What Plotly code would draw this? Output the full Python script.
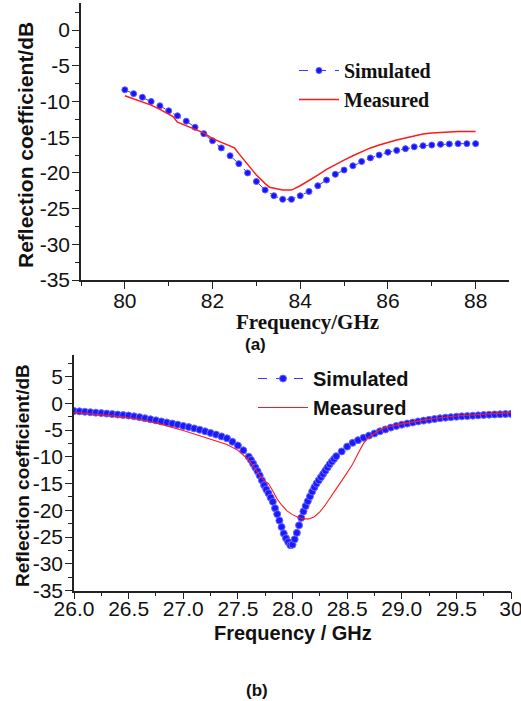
import plotly.graph_objects as go

# ---------------- data: panel (a) ----------------
a_sim_freq = [80.0, 80.2, 80.4, 80.6, 80.8, 81.0, 81.2, 81.4, 81.6, 81.8,
              82.0, 82.2, 82.4, 82.6, 82.8, 83.0, 83.2, 83.4, 83.6, 83.8,
              84.0, 84.2, 84.4, 84.6, 84.8, 85.0, 85.2, 85.4, 85.6, 85.8,
              86.0, 86.2, 86.4, 86.6, 86.8, 87.0, 87.2, 87.4, 87.6, 87.8, 88.0]
a_sim_db = [-8.36, -8.9, -9.4, -10.0, -10.6, -11.3, -12.0, -12.75, -13.6, -14.5,
            -15.5, -16.5, -17.6, -18.7, -20.0, -21.2, -22.4, -23.2, -23.7, -23.7,
            -23.2, -22.6, -21.8, -21.0, -20.2, -19.6, -19.0, -18.4, -17.9, -17.5,
            -17.1, -16.85, -16.6, -16.35, -16.2, -16.1, -16.0, -15.95, -15.9, -15.9, -15.9]

a_meas_freq = [80.0, 80.2, 80.4, 80.6, 80.8, 81.0, 81.1, 81.2, 81.4, 81.6,
               81.8, 82.0, 82.2, 82.4, 82.5, 82.6, 82.8, 83.0, 83.2, 83.3,
               83.6, 83.8, 84.0, 84.2, 84.4, 84.6, 84.8, 85.0, 85.2, 85.4,
               85.6, 85.8, 86.0, 86.2, 86.4, 86.6, 86.8, 87.0, 87.2, 87.4,
               87.6, 87.8, 88.0]
a_meas_db = [-9.2, -9.6, -10.0, -10.5, -11.1, -11.8, -12.1, -12.9, -13.4, -14.0,
             -14.4, -15.2, -15.7, -16.2, -16.5, -17.3, -18.8, -20.3, -21.5, -22.0,
             -22.4, -22.4, -21.8, -21.1, -20.3, -19.5, -18.8, -18.2, -17.6, -17.0,
             -16.5, -16.1, -15.7, -15.4, -15.1, -14.8, -14.55, -14.4, -14.3, -14.25,
             -14.2, -14.2, -14.2]

a_xticks = [80, 82, 84, 86, 88]
a_xticklabels = ["80", "82", "84", "86", "88"]
a_yticks = [-35, -30, -25, -20, -15, -10, -5, 0]
a_yticklabels = ["-35", "-30", "-25", "-20", "-15", "-10", "-5", "0"]

# ---------------- data: panel (b) ----------------
b_sim_freq = [26.00, 26.05, 26.10, 26.15, 26.20, 26.25, 26.30, 26.35, 26.40, 26.45,
              26.50, 26.55, 26.60, 26.65, 26.70, 26.75, 26.80, 26.85, 26.90, 26.95,
              27.00, 27.05, 27.10, 27.15, 27.20, 27.25, 27.30, 27.35, 27.40, 27.45,
              27.50, 27.55, 27.60,
              27.62, 27.64, 27.66, 27.68, 27.70, 27.72, 27.74, 27.76, 27.78, 27.80,
              27.82, 27.84, 27.86, 27.88, 27.90, 27.92, 27.94, 27.96, 27.98, 28.00,
              28.02, 28.04, 28.06, 28.08, 28.10, 28.12, 28.14, 28.16, 28.18, 28.20,
              28.22, 28.24, 28.26, 28.28, 28.30, 28.32, 28.34, 28.36, 28.38, 28.40,
              28.45, 28.50, 28.55, 28.60, 28.65, 28.70, 28.75, 28.80, 28.85, 28.90,
              28.95, 29.00, 29.05, 29.10, 29.15, 29.20, 29.25, 29.30, 29.35, 29.40,
              29.45, 29.50, 29.55, 29.60, 29.65, 29.70, 29.75, 29.80, 29.85, 29.90,
              29.95, 30.00]
b_sim_db = [-1.45, -1.52, -1.6, -1.68, -1.76, -1.85, -1.94, -2.03, -2.12, -2.21,
            -2.3, -2.45, -2.6, -2.8, -3.0, -3.2, -3.4, -3.6, -3.8, -4.0,
            -4.25, -4.45, -4.7, -4.95, -5.25, -5.55, -5.85, -6.2, -6.55, -7.2,
            -7.9, -8.8, -10.0,
            -10.6, -11.3, -12.0, -12.7, -13.5, -14.4, -15.3, -16.1, -16.8, -17.6,
            -18.4, -19.6, -20.7, -21.9, -23.1, -24.3, -25.2, -25.9, -26.5, -26.4,
            -25.4, -24.2, -22.8, -21.4, -20.2, -19.2, -18.3, -17.4, -16.5, -15.7,
            -15.0, -14.4, -13.8, -13.2, -12.6, -12.0, -11.4, -10.9, -10.4, -9.9,
            -9.0, -8.1, -7.4, -6.9, -6.45, -6.05, -5.65, -5.25, -4.9, -4.55,
            -4.25, -4.0, -3.8, -3.6, -3.4, -3.25, -3.1, -2.95, -2.8, -2.7,
            -2.6, -2.52, -2.45, -2.4, -2.33, -2.27, -2.2, -2.15, -2.1, -2.06,
            -2.02, -2.0]

b_meas_freq = [26.0, 26.2, 26.4, 26.6, 26.8, 27.0, 27.2, 27.4, 27.5, 27.6,
               27.65, 27.7, 27.74, 27.78, 27.82, 27.86, 27.9, 27.95, 28.0, 28.05,
               28.1, 28.15, 28.2, 28.25, 28.3, 28.35, 28.4, 28.45, 28.5, 28.55,
               28.6, 28.65, 28.7, 28.75, 28.8, 28.85, 28.9, 29.0, 29.1, 29.2,
               29.3, 29.4, 29.5, 29.6, 29.7, 29.8, 29.9, 30.0]
b_meas_db = [-1.7, -2.05, -2.45, -3.0, -3.95, -5.1, -6.4, -7.7, -8.8, -10.6,
             -12.0, -13.5, -14.4, -15.0, -16.4, -17.9, -19.0, -20.1, -20.8, -21.3,
             -21.6, -21.6, -21.2, -20.3, -19.0, -17.6, -16.0, -14.5, -13.0, -11.4,
             -9.4, -7.5, -6.3, -5.6, -5.0, -4.6, -4.3, -3.85, -3.45, -3.15,
             -2.85, -2.6, -2.4, -2.25, -2.1, -1.95, -1.85, -1.75]

b_xticks = [26.0, 26.5, 27.0, 27.5, 28.0, 28.5, 29.0, 29.5, 30.0]
b_xticklabels = ["26.0", "26.5", "27.0", "27.5", "28.0", "28.5", "29.0", "29.5", "30"]
b_yticks = [-35, -30, -25, -20, -15, -10, -5, 0, 5]
b_yticklabels = ["-35", "-30", "-25", "-20", "-15", "-10", "-5", "0", "5"]

# ---------------- figure ----------------
W, H = 521, 701
SERIF = "Liberation Serif, Times New Roman, serif"
SANS = "Liberation Sans, Arial, sans-serif"
AXC = "#222222"
TXT = "#111111"

fig = go.Figure()

fig.add_trace(go.Scatter(
    x=a_sim_freq, y=a_sim_db, name="Simulated", mode="lines+markers",
    line=dict(color="#3a3aff", width=1, dash="dash"),
    marker=dict(symbol="circle", size=6, color="#1414ff",
                line=dict(color="#5a5aff", width=1)),
    xaxis="x", yaxis="y", legend="legend"))
fig.add_trace(go.Scatter(
    x=a_meas_freq, y=a_meas_db, name="Measured", mode="lines",
    line=dict(color="#ff1a1a", width=1.5),
    xaxis="x", yaxis="y", legend="legend"))

fig.add_trace(go.Scatter(
    x=b_sim_freq, y=b_sim_db, name="Simulated", mode="lines+markers",
    line=dict(color="#3a3aff", width=1, dash="dash"),
    marker=dict(symbol="circle", size=7, color="#1a1aff",
                line=dict(color="#6a6aff", width=1)),
    xaxis="x2", yaxis="y2", legend="legend2"))
fig.add_trace(go.Scatter(
    x=b_meas_freq, y=b_meas_db, name="Measured", mode="lines",
    line=dict(color="#ff1a1a", width=1.1),
    xaxis="x2", yaxis="y2", legend="legend2"))

axis_common = dict(showgrid=False, zeroline=False, showline=True, linecolor=AXC,
                   linewidth=1.5, ticks="outside", tickcolor=AXC, tickwidth=1.3,
                   ticklen=7, mirror=False, automargin=False, tickmode="array",
                   ticklabeloverflow="allow")
minor_common = dict(ticks="outside", ticklen=4, tickcolor=AXC, tickwidth=1.3)

fig.update_layout(
    template="none",
    width=W, height=H,
    margin=dict(l=0, r=0, t=0, b=0, autoexpand=False),
    paper_bgcolor="white", plot_bgcolor="white",
    font=dict(family=SANS, color=TXT),
    xaxis=dict(domain=[81 / W, 508.5 / W], range=[79, 88.75],
               tickvals=a_xticks, ticktext=a_xticklabels, anchor="y",
               tickfont=dict(family=SANS, size=21, color=TXT),
               ticklabelstandoff=-6,
               minor=dict(dtick=1, tick0=79, **minor_common),
               **axis_common),
    yaxis=dict(domain=[1 - 280 / H, 1 - 3 / H], range=[-35, 3.8],
               tickvals=a_yticks, ticktext=a_yticklabels, anchor="x",
               tickfont=dict(family=SANS, size=21, color=TXT),
               ticklabelstandoff=-2,
               minor=dict(dtick=2.5, tick0=0, **minor_common),
               **axis_common),
    xaxis2=dict(domain=[74 / W, 511 / W], range=[26, 30],
                tickvals=b_xticks, ticktext=b_xticklabels, anchor="y2",
                tickfont=dict(family=SANS, size=21, color=TXT),
                ticklabelstandoff=-9,
                minor=dict(dtick=0.25, tick0=26, **minor_common),
                **axis_common),
    yaxis2=dict(domain=[1 - 590.7 / H, 1 - 355 / H], range=[-35, 9],
                tickvals=b_yticks, ticktext=b_yticklabels, anchor="x2",
                tickfont=dict(family=SANS, size=21, color=TXT),
                ticklabelstandoff=-2,
                minor=dict(dtick=2.5, tick0=0, **minor_common),
                **axis_common),
    legend=dict(x=294 / W, y=1 - 51 / H, xanchor="left", yanchor="top",
                bgcolor="rgba(0,0,0,0)", borderwidth=0,
                font=dict(family=SERIF, size=20, color=TXT, weight="bold"),
                itemwidth=40, tracegroupgap=0),
    legend2=dict(x=253 / W, y=1 - 359 / H, xanchor="left", yanchor="top",
                 bgcolor="rgba(0,0,0,0)", borderwidth=0,
                 font=dict(family=SANS, size=20, color=TXT, weight="bold"),
                 itemwidth=50, tracegroupgap=0),
    showlegend=True,
)

annotations = [
    dict(text="Reflection coefficient/dB", x=25 / W, y=1 - 145 / H, textangle=-90,
         font=dict(family=SANS, size=21, color=TXT, weight="bold")),
    dict(text="Frequency/GHz", x=307 / W, y=1 - 322 / H,
         font=dict(family=SERIF, size=21, color=TXT, weight="bold")),
    dict(text="(a)", x=255 / W, y=1 - 344 / H,
         font=dict(family=SANS, size=17, color=TXT, weight="bold")),
    dict(text="Reflection coefficient/dB", x=22 / W, y=1 - 476 / H, textangle=-90,
         font=dict(family=SANS, size=19, color=TXT, weight="bold")),
    dict(text="Frequency / GHz", x=293 / W, y=1 - 633 / H,
         font=dict(family=SANS, size=20, color=TXT, weight="bold")),
    dict(text="(b)", x=257 / W, y=1 - 690 / H,
         font=dict(family=SANS, size=17, color=TXT, weight="bold")),
]
for a in annotations:
    a.update(xref="paper", yref="paper", showarrow=False, xanchor="center", yanchor="middle")
fig.update_layout(annotations=annotations)

fig.write_html("out.html",
               config={"displayModeBar": False},
               post_script="document.body.style.margin='0';document.body.style.padding='0';")
